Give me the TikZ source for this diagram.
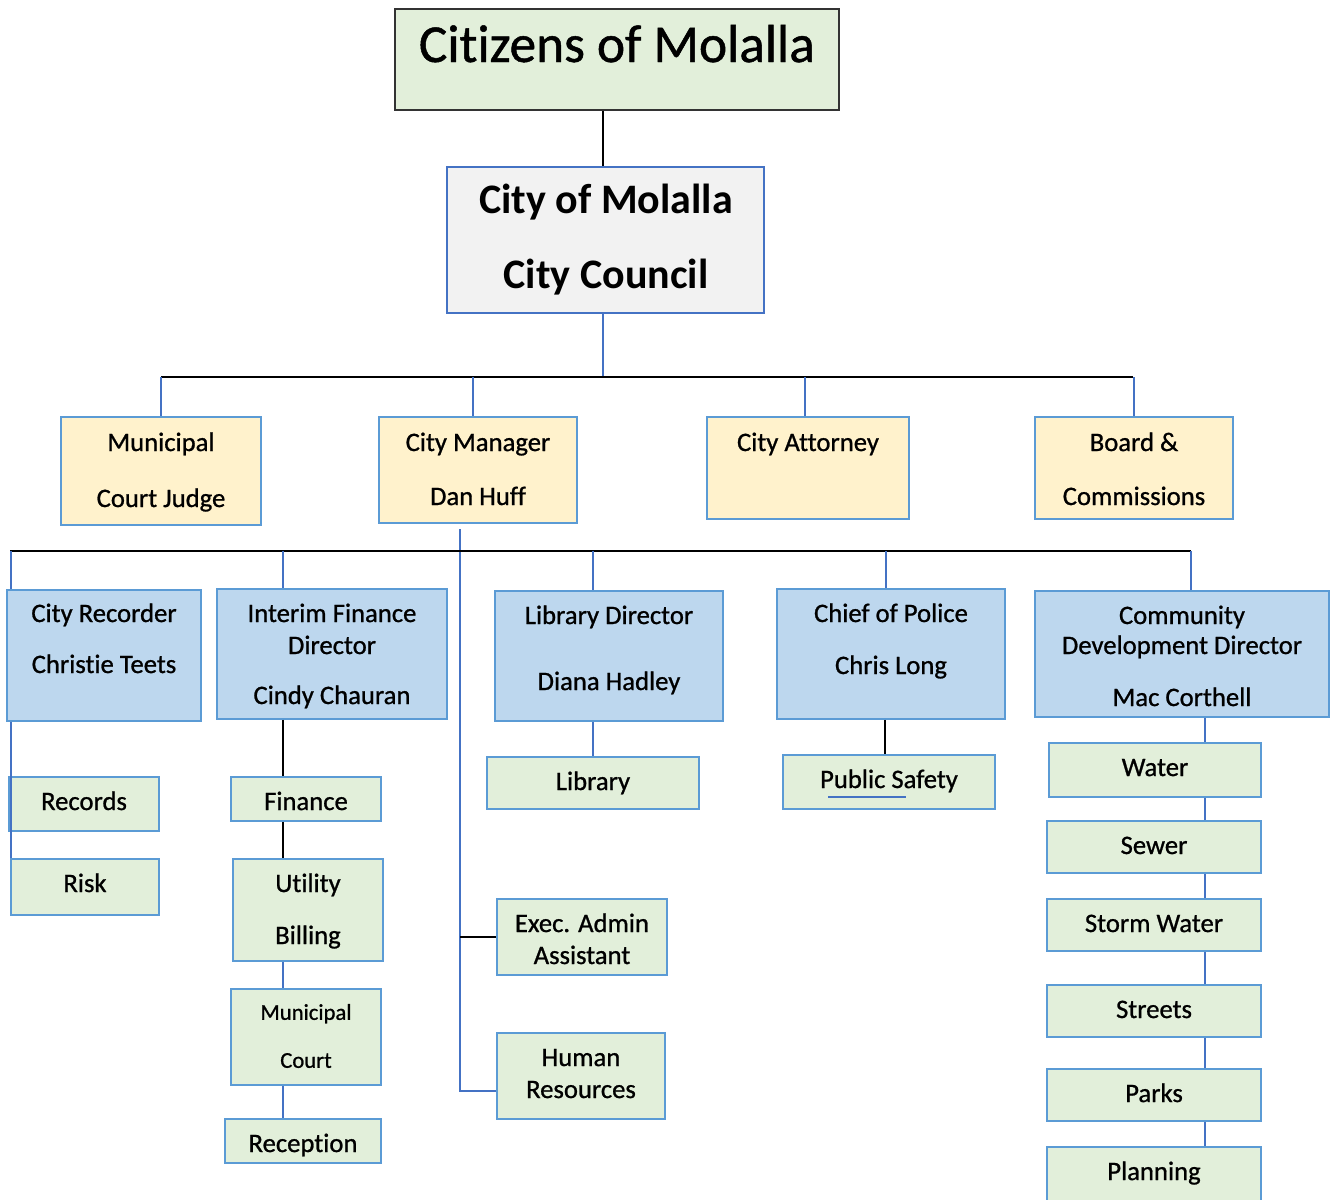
\documentclass[tikz,border=0pt]{standalone}
\usepackage{fontspec}
\setmainfont{Carlito}[Ligatures=NoCommon, UprightFeatures={FakeBold=0.9}]
\usetikzlibrary{fit}

\definecolor{boxgreen}{RGB}{226,239,218}
\definecolor{boxyellow}{RGB}{255,242,204}
\definecolor{boxblue}{RGB}{189,215,238}
\definecolor{boxgray}{RGB}{242,242,242}
\definecolor{edgeblue}{RGB}{91,155,213}
\definecolor{lineblue}{RGB}{68,114,196}

\tikzset{
  box/.style={draw=edgeblue, line width=1.3pt, inner sep=0pt},
  greenbox/.style={box, fill=boxgreen},
  yellowbox/.style={box, fill=boxyellow},
  bluebox/.style={box, fill=boxblue},
  txt/.style={inner sep=0pt, text height=13pt, text depth=1pt, font=\fontsize{20}{24}\selectfont},
  smalltxt/.style={txt, text height=11pt, text depth=0.8pt, font=\fontsize{17}{20}\selectfont},
  counciltxt/.style={txt, text height=17.5pt, text depth=1pt, font=\fontsize{31.5}{38}\selectfont\bfseries},
  titletxt/.style={txt, text height=26.5pt, text depth=1pt, font=\fontsize{40}{48}\selectfont},
  blueline/.style={draw=lineblue, line width=1.2pt},
  blackline/.style={draw=black, line width=1.5pt},
}

\begin{document}
\begin{tikzpicture}[x=0.75pt,y=0.75pt,yscale=-1,xscale=1]
\useasboundingbox (0,0) rectangle (1331,1199);

% Bus lines and drop points
\coordinate (busone) at (603,377);
\coordinate (bustwo) at (10,551);
\coordinate (mgrdrop) at (460,529);
\coordinate (colrec) at (11,551);
\coordinate (colfin) at (283,551);
\coordinate (collib) at (593,551);
\coordinate (colpol) at (886,551);
\coordinate (colcom) at (1191,551);
\coordinate (colstreet) at (1205,551);

% Top boxes
\node[draw=black!80, line width=1.5pt, fill=boxgreen, inner sep=0pt, fit={(395,9) (839,110)}] (citizens) {};
\node[draw=lineblue, line width=1.3pt, fill=boxgray, inner sep=0pt, fit={(447,167) (764,313)}] (council) {};

% Connectors (drawn first, boxes paint over the ends)
\draw[blackline] (busone |- citizens.south) -- (busone |- council.north);
\draw[blueline] (busone |- council.south) -- (busone);
\draw[blackline] (161,377) -- (1133,377);

% Second row
\node[yellowbox, fit={(61,417) (261,525)}] (judge) {};
\node[yellowbox, fit={(379,417) (577,523)}] (manager) {};
\node[yellowbox, fit={(707,417) (909,519)}] (attorney) {};
\node[yellowbox, fit={(1035,417) (1233,519)}] (board) {};
\draw[blueline] (judge.north |- busone) -- (judge.north);
\draw[blueline] ([xshift=-3.75pt]manager.north |- busone) -- ([xshift=-3.75pt]manager.north);
\draw[blueline] ([xshift=-2.25pt]attorney.north |- busone) -- ([xshift=-2.25pt]attorney.north);
\draw[blueline] (board.north |- busone) -- (board.north);

% Directors
\node[bluebox, fit={(7,590) (201,721)}] (recorder) {};
\node[bluebox, fit={(217,589) (447,719)}] (findir) {};
\node[bluebox, fit={(495,591) (723,721)}] (libdir) {};
\node[bluebox, fit={(777,589) (1005,719)}] (police) {};
\node[bluebox, fit={(1035,591) (1329,717)}] (commdev) {};

% Departments
\node[greenbox, fit={(9,777) (159,831)}] (records) {};
\node[greenbox, fit={(11,859) (159,915)}] (risk) {};
\node[greenbox, fit={(231,777) (381,821)}] (finance) {};
\node[greenbox, fit={(233,859) (383,961)}] (billing) {};
\node[greenbox, fit={(231,989) (381,1085)}] (court) {};
\node[greenbox, fit={(225,1119) (381,1163)}] (reception) {};
\node[greenbox, fit={(487,757) (699,809)}] (library) {};
\node[greenbox, fit={(783,755) (995,809)}] (safety) {};
\node[greenbox, fit={(497,899) (667,975)}] (exec) {};
\node[greenbox, fit={(497,1033) (665,1119)}] (hr) {};
\node[greenbox, fit={(1049,743) (1261,797)}] (water) {};
\node[greenbox, fit={(1047,821) (1261,873)}] (sewer) {};
\node[greenbox, fit={(1047,899) (1261,951)}] (storm) {};
\node[greenbox, fit={(1047,985) (1261,1037)}] (streets) {};
\node[greenbox, fit={(1047,1069) (1261,1121)}] (parks) {};
\node[greenbox, fit={(1047,1147) (1261,1205)}] (planning) {};

% City manager spine
\draw[blueline] (mgrdrop) -- ([yshift=11.25pt]mgrdrop |- hr.west) -- ([yshift=11.25pt]hr.west);
\draw[blackline] (mgrdrop |- exec.west) -- (exec.west);
\draw[blackline] (bustwo) -- (colcom);

% Drops to the directors
\draw[blueline] (colrec) -- (colrec |- recorder.north);
\draw[blueline] (colfin) -- (colfin |- findir.north);
\draw[blueline] (collib) -- (collib |- libdir.north);
\draw[blueline] (colpol) -- (colpol |- police.north);
\draw[blueline] (colcom) -- (colcom |- commdev.north);

% Department chains
\draw[blueline] (colrec |- recorder.south) -- (colrec |- risk.north);
\draw[blackline] (colfin |- findir.south) -- (colfin |- finance.north);
\draw[blackline] (colfin |- finance.south) -- (colfin |- billing.north);
\draw[blueline] (colfin |- billing.south) -- (colfin |- court.north);
\draw[blueline] (colfin |- court.south) -- (colfin |- reception.north);
\draw[blueline] (collib |- libdir.south) -- (collib |- library.north);
\draw[blackline] ([xshift=-0.75pt]colpol |- police.south) -- ([xshift=-0.75pt]colpol |- safety.north);
\draw[blueline] (colstreet |- commdev.south) -- (colstreet |- water.north);
\draw[blueline] (colstreet |- water.south) -- (colstreet |- sewer.north);
\draw[blueline] (colstreet |- sewer.south) -- (colstreet |- storm.north);
\draw[blueline] (colstreet |- storm.south) -- (colstreet |- streets.north);
\draw[blueline] (colstreet |- streets.south) -- (colstreet |- parks.north);
\draw[blueline] (colstreet |- parks.south) -- (colstreet |- planning.north);

% Text Node
\node[titletxt] (citizens-a) at (617,45) {Citizens of Molalla};
\node[counciltxt] (council-a) at (606,202) {City of Molalla};
\node[counciltxt] (council-b) at (606,277) {City Council};
% Text Node
\node[txt] (judge-a) at (161,443) {Municipal};
\node[txt] (judge-b) at (161,499) {Court Judge};
\node[txt] (manager-a) at (478,443) {City Manager};
\node[txt] (manager-b) at (478,497) {Dan Huff};
\node[txt] (attorney-a) at (808,443) {City Attorney};
\node[txt] (board-a) at (1134,443) {Board \&};
\node[txt] (board-b) at (1134,497) {Commissions};
% Text Node
\node[txt] (recorder-a) at (104,614) {City Recorder};
\node[txt] (recorder-b) at (104,665) {Christie Teets};
\node[txt] (findir-a) at (332,614) {Interim Finance};
\node[txt] (findir-b) at (332,646) {Director};
\node[txt] (findir-c) at (332,696) {Cindy Chauran};
\node[txt] (libdir-a) at (609,616) {Library Director};
\node[txt] (libdir-b) at (609,682) {Diana Hadley};
\node[txt] (police-a) at (891,614) {Chief of Police};
\node[txt] (police-b) at (891,666) {Chris Long};
\node[txt] (commdev-a) at (1182,616) {Community};
\node[txt] (commdev-b) at (1182,646) {Development Director};
\node[txt] (commdev-c) at (1182,698) {Mac Corthell};
% Text Node
\node[txt] (records-a) at (84,802) {Records};
\node[txt] (risk-a) at (85,884) {Risk};
\node[txt] (finance-a) at (306,802) {Finance};
\node[txt] (billing-a) at (308,884) {Utility};
\node[txt] (billing-b) at (308,936) {Billing};
\node[smalltxt] (court-a) at (306,1013) {Municipal};
\node[smalltxt] (court-b) at (306,1061) {Court};
\node[txt] (reception-a) at (303,1144) {Reception};
\node[txt] (library-a) at (593,782) {Library};
\node[txt] (safety-a) at (889,780) {Public Safety};
\draw[lineblue, line width=0.8pt] (828,797) -- (906,797);
\node[txt] (exec-a) at (582,924) {Exec. Admin};
\node[txt] (exec-b) at (582,956) {Assistant};
\node[txt] (hr-a) at (581,1058) {Human};
\node[txt] (hr-b) at (581,1090) {Resources};
% Text Node
\node[txt] (water-a) at (1155,768) {Water};
\node[txt] (sewer-a) at (1154,846) {Sewer};
\node[txt] (storm-a) at (1154,924) {Storm Water};
\node[txt] (streets-a) at (1154,1010) {Streets};
\node[txt] (parks-a) at (1154,1094) {Parks};
\node[txt] (planning-a) at (1154,1172) {Planning};

\end{tikzpicture}
\end{document}
